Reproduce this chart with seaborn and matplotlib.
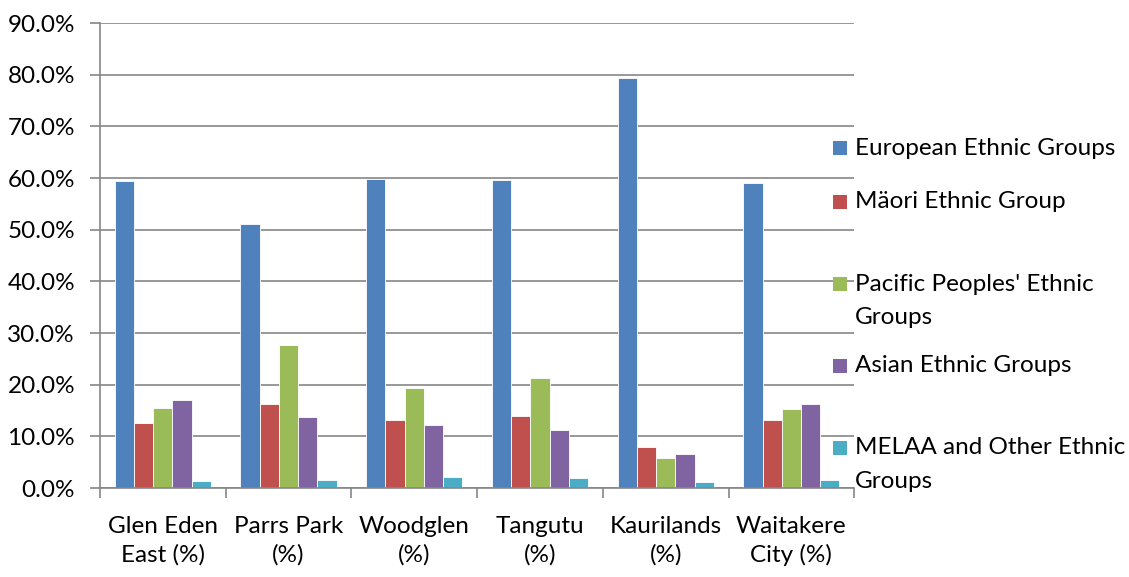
import seaborn as sns
import matplotlib.pyplot as plt
import matplotlib.patches as mpatches
from matplotlib.ticker import PercentFormatter, FixedLocator
import pandas as pd

areas = ["Glen Eden\nEast (%)", "Parrs Park\n(%)", "Woodglen\n(%)",
         "Tangutu\n(%)", "Kaurilands\n(%)", "Waitakere\nCity (%)"]
groups = ["European Ethnic Groups", "Mäori Ethnic Group",
          "Pacific Peoples' Ethnic\nGroups", "Asian Ethnic Groups",
          "MELAA and Other Ethnic\nGroups"]

european = [59.4, 51.2, 59.9, 59.6, 79.4, 59.0]
maori = [12.7, 16.2, 13.1, 14.0, 7.9, 13.1]
pacific = [15.5, 27.7, 19.4, 21.4, 5.9, 15.3]
asian = [17.0, 13.8, 12.3, 11.2, 6.7, 16.2]
melaa = [1.4, 1.5, 2.1, 1.9, 1.2, 1.5]

colors = ["#4F81BD", "#C0504D", "#9BBB59", "#8064A2", "#4BACC6"]

rows = []
for g, vals in zip(groups, [european, maori, pacific, asian, melaa]):
    for a, v in zip(areas, vals):
        rows.append({"area": a, "group": g, "value": v})
df = pd.DataFrame(rows)

sns.set_style("white")
plt.rcParams["font.family"] = ["Lato", "DejaVu Sans"]
fs = 17.5

fig = plt.figure(figsize=(11.29, 5.77), dpi=100)
ax = fig.add_axes([0.0886, 0.154, 0.668, 0.806])

sns.barplot(data=df, x="area", y="value", hue="group", palette=colors,
            width=0.765, edgecolor="white", linewidth=0.6, ax=ax,
            legend=False, saturation=1)

ax.set_ylim(0, 90)
ax.set_xlim(-0.5, 5.5)
ax.yaxis.set_major_locator(FixedLocator(range(0, 91, 10)))
ax.yaxis.set_major_formatter(PercentFormatter(decimals=1))
ax.grid(axis="y", color="#868686", linewidth=1.2)
ax.set_axisbelow(True)

for s in ["top", "right"]:
    ax.spines[s].set_visible(False)
ax.spines["left"].set_color("#868686")
ax.spines["bottom"].set_color("#868686")
ax.spines["left"].set_linewidth(1.2)
ax.spines["bottom"].set_linewidth(1.2)

ax.tick_params(axis="y", length=7, width=1.2, color="#868686", pad=11,
               labelsize=fs, labelcolor="black", left=True)
ax.set_xticks([i - 0.5 for i in range(7)], minor=True)
ax.tick_params(axis="x", which="minor", length=7, width=1.2, color="#868686", bottom=True)
ax.tick_params(axis="x", which="major", length=0, pad=20, labelsize=fs, labelcolor="black")
for t in ax.get_xticklabels():
    t.set_linespacing(1.4)
ax.set_xlabel("")
ax.set_ylabel("")

# legend, drawn by hand to mimic the wrapped entries
W, H = 1129, 577
entry_y = [148, 202, 284, 366, 448]
for g, c, y in zip(groups, colors, entry_y):
    fig.patches.append(mpatches.Rectangle((833 / W, 1 - (y + 7) / H), 14 / W, 14 / H,
                                          transform=fig.transFigure, facecolor=c,
                                          edgecolor="none"))
    for i, line in enumerate(g.split("\n")):
        fig.text(855 / W, 1 - (y + 33 * i) / H, line, fontsize=fs, va="center",
                 ha="left", color="black")

fig.savefig("out.png", dpi=100)
